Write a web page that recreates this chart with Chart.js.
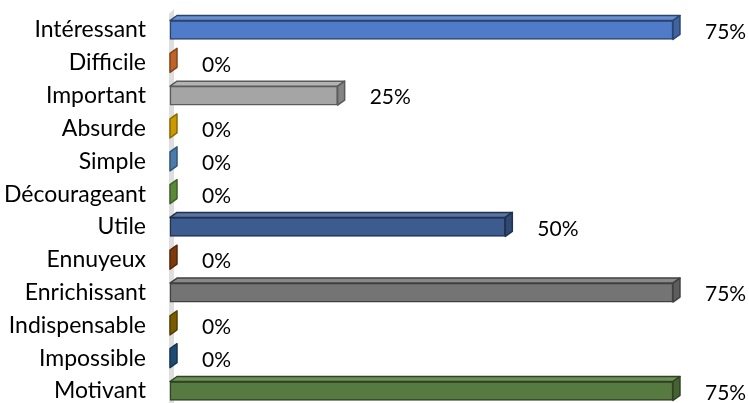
<!DOCTYPE html>
<html>
<head>
<meta charset="utf-8">
<script src="https://cdn.jsdelivr.net/npm/chart.js@4.4.1/dist/chart.umd.min.js"></script>
<style>
  html, body { margin: 0; padding: 0; background: #fff; overflow: hidden; }
  #wrap { width: 749px; height: 403px; }
</style>
</head>
<body>
<div id="wrap"><canvas id="graphique"></canvas></div>
<script>
// categories (top to bottom) and values in %
const categories = ['Intéressant', 'Difficile', 'Important', 'Absurde', 'Simple', 'Décourageant',
                    'Utile', 'Ennuyeux', 'Enrichissant', 'Indispensable', 'Impossible', 'Motivant'];
const values = [75, 0, 25, 0, 0, 0, 50, 0, 75, 0, 0, 75];
const valueLabels = ['75%', '0%', '25%', '0%', '0%', '0%', '50%', '0%', '75%', '0%', '0%', '75%'];
const colors = ['#4f7bc8', '#ed7d31', '#a5a5a5', '#ffc000', '#5b9bd5', '#70ad47',
                '#3c5b8f', '#9e480e', '#747474', '#997300', '#255e91', '#567a3f'];

// profondeur 3D
const dx = 7, dy = 5;

function teinte(hex, f) {
  let r = parseInt(hex.substr(1, 2), 16), g = parseInt(hex.substr(3, 2), 16), b = parseInt(hex.substr(5, 2), 16);
  if (f < 0) { r = r * (1 + f); g = g * (1 + f); b = b * (1 + f); }
  else { r = r + (255 - r) * f; g = g + (255 - g) * f; b = b + (255 - b) * f; }
  return 'rgb(' + Math.round(r) + ',' + Math.round(g) + ',' + Math.round(b) + ')';
}

const barres3d = {
  id: 'barres3d',
  beforeDatasetsDraw(chart) {
    // mur gris à gauche
    const ctx = chart.ctx, a = chart.chartArea;
    ctx.save();
    ctx.fillStyle = '#dedede';
    ctx.beginPath();
    ctx.moveTo(a.left - 1, 403);
    ctx.lineTo(a.left - 1, a.top - 16);
    ctx.lineTo(a.left + dx - 3, a.top - 21);
    ctx.lineTo(a.left + dx - 3, 403);
    ctx.closePath();
    ctx.fill();
    ctx.restore();
  },
  afterDatasetsDraw(chart) {
    const ctx = chart.ctx;
    const meta = chart.getDatasetMeta(0);
    ctx.save();
    meta.data.forEach(function(bar, i) {
      const x0 = bar.base, x1 = bar.x, h = bar.height;
      const haut = bar.y - h / 2, bas = bar.y + h / 2;
      const bord = teinte(colors[i], -0.45);
      ctx.lineWidth = 1.5;
      ctx.strokeStyle = bord;
      ctx.lineJoin = 'round';
      // face du dessus
      if (x1 - x0 > 0.5) {
        ctx.fillStyle = teinte(colors[i], 0.15);
        ctx.beginPath();
        ctx.moveTo(x0, haut);
        ctx.lineTo(x0 + dx, haut - dy);
        ctx.lineTo(x1 + dx, haut - dy);
        ctx.lineTo(x1, haut);
        ctx.closePath();
        ctx.fill();
        ctx.stroke();
      }
      // face de droite
      ctx.fillStyle = teinte(colors[i], -0.2);
      ctx.beginPath();
      ctx.moveTo(x1, haut);
      ctx.lineTo(x1 + dx, haut - dy);
      ctx.lineTo(x1 + dx, bas - dy);
      ctx.lineTo(x1, bas);
      ctx.closePath();
      ctx.fill();
      ctx.stroke();
      // étiquette
      ctx.fillStyle = '#000';
      ctx.font = '21px Lato';
      ctx.textAlign = 'left';
      ctx.textBaseline = 'middle';
      ctx.fillText(valueLabels[i], x1 + dx + 25, bar.y + 2);
    });
    ctx.restore();
  }
};

new Chart(document.getElementById('graphique'), {
  type: 'bar',
  data: {
    labels: categories,
    datasets: [{
      data: values,
      backgroundColor: colors,
      borderColor: colors.map(c => teinte(c, -0.45)),
      borderWidth: 1.5,
      borderSkipped: false,
      barThickness: 19,
      clip: false
    }]
  },
  options: {
    indexAxis: 'y',
    responsive: true,
    maintainAspectRatio: false,
    animation: false,
    layout: { padding: { top: 30, bottom: 12, right: 42.5, left: 0 } },
    plugins: { legend: { display: false }, tooltip: { enabled: false } },
    scales: {
      x: { display: false, min: 0, max: 80 },
      y: {
        offset: false,
        grid: { display: false, drawTicks: false, tickLength: 0 },
        border: { display: false },
        ticks: { padding: 24, color: '#000', font: { family: 'Lato', size: 23 } },
        afterFit: function(scale) {
          scale.width = 170;
          scale.paddingTop = 0;
          scale.paddingBottom = 0;
        }
      }
    }
  },
  plugins: [barres3d]
});
</script>
</body>
</html>
